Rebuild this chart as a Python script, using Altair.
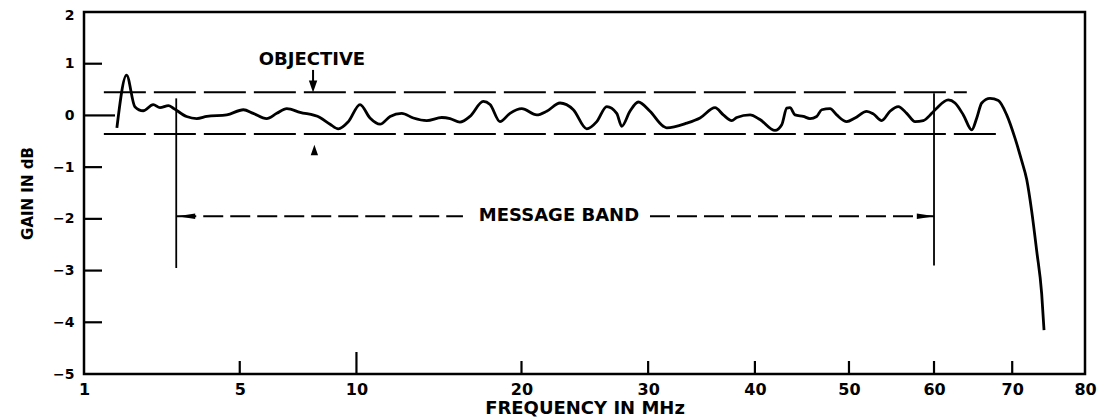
import altair as alt
import pandas as pd

# ---- measured response curve (frequency in MHz, gain in dB) ----
freq = [1.59, 1.79, 1.97, 2.16, 2.40, 2.57, 2.79, 2.92, 3.29, 3.59,
        3.90, 4.55, 5.13, 5.49, 6.00, 6.40, 6.81, 7.37, 8.25, 8.72,
        9.11, 9.60, 10.18, 10.69, 11.22, 11.76, 12.40, 13.06, 13.84, 14.74,
        15.25, 15.87, 16.51, 17.38, 17.83, 18.50, 19.19, 20.02, 21.10, 21.83,
        22.83, 23.85, 24.90, 25.70, 26.51, 27.33, 27.75, 28.44, 29.15, 30.16,
        31.33, 31.64, 33.45, 34.68, 36.10, 36.89, 37.71, 38.20, 39.51, 40.51,
        42.04, 42.74, 43.26, 43.60, 44.13, 45.01, 45.72, 46.44, 46.99, 47.90,
        48.63, 49.75, 50.68, 52.01, 52.77, 53.74, 54.71, 55.69, 56.69, 57.69,
        58.69, 59.72, 60.33, 61.77, 62.61, 63.66, 64.73, 65.37, 66.01, 67.08,
        68.17, 69.27, 70.37, 71.27, 71.94, 72.61, 73.29, 73.97, 74.29]
gain = [-0.24, 0.78, 0.17, 0.09, 0.21, 0.15, 0.19, 0.14, -0.02, -0.06,
        -0.02, 0.01, 0.11, 0.04, -0.06, 0.04, 0.13, 0.06, -0.04, -0.17,
        -0.26, -0.12, 0.21, -0.05, -0.17, -0.02, 0.04, -0.05, -0.10, -0.04,
        -0.06, -0.13, -0.02, 0.27, 0.21, -0.12, 0.04, 0.13, 0.01, 0.08,
        0.24, 0.11, -0.26, -0.12, 0.17, 0.04, -0.21, 0.08, 0.26, 0.08,
        -0.21, -0.24, -0.15, -0.05, 0.15, 0.01, -0.10, -0.04, 0.01, -0.08,
        -0.29, -0.18, 0.14, 0.15, 0.01, -0.02, -0.06, -0.02, 0.11, 0.13,
        0.01, -0.12, -0.05, 0.08, 0.03, -0.10, 0.08, 0.17, 0.04, -0.12,
        -0.10, 0.04, 0.14, 0.30, 0.24, 0.01, -0.28, -0.05, 0.24, 0.33,
        0.29, 0.01, -0.44, -0.88, -1.24, -1.85, -2.62, -3.45, -4.15]

# ---- axes ----
x_tick_values = [1, 5, 10, 20, 30, 40, 50, 60, 70, 80]
y_tick_values = [-5, -4, -3, -2, -1, 0, 1, 2]
inner_x_ticks = [5, 20, 30, 40, 50, 60, 70]
inner_x_tick_long = [10]
inner_y_ticks = [1, -1, -2, -3, -4]
inner_y_tick_long = [0]

# ---- objective (+/- tolerance) ----
objective_level = [0.45, -0.36]
objective_start = [1.34, 1.34]
objective_end = [64.1, 68.8]
objective_label = ["OBJECTIVE"]
objective_label_f = [7.89]
objective_label_g = [1.08]
objective_down_f = [7.94]
objective_down_stem = [0.88, 0.62]
objective_down_head = [0.56]
objective_up_f = [8.0]
objective_up_head = [-0.67]

# ---- message band ----
band_edges = [3.0, 60.0]
band_edge_top = [0.33, 0.43]
band_edge_bottom = [-2.95, -2.9]
band_level = [-1.95, -1.95]
band_dash_start = [3.0, 30.16]
band_dash_end = [16.06, 60.0]
band_arrow_left = [3.28]
band_arrow_right = [59.0]
band_label = ["MESSAGE BAND"]
band_label_f = [22.75]

FONT = "DejaVu Sans"
INK = "black"
W, H = 1001, 362

xs = alt.Scale(type="sqrt", domain=[1, 80], zero=False, nice=False)
ys = alt.Scale(domain=[-5, 2], zero=False, nice=False)

x_axis = alt.Axis(values=x_tick_values, title="FREQUENCY IN MHz", format="d",
                  ticks=False, tickSize=0, domain=False, grid=False,
                  labelFlush=False, labelOverlap=False, labelPadding=7,
                  labelFont=FONT, labelFontSize=16, labelFontWeight="bold",
                  labelColor=INK, titleFont=FONT, titleFontSize=18,
                  titleFontWeight="bold", titleColor=INK, titleY=39,
                  titleBaseline="alphabetic")
y_axis = alt.Axis(values=y_tick_values, title="GAIN IN dB", format="d",
                  ticks=False, tickSize=0, domain=False, grid=False,
                  labelFlush=False, labelOverlap=False, labelPadding=10,
                  labelOffset={"condition": {"test": "datum.value === 2",
                                             "value": 3},
                               "value": 0},
                  labelFont=FONT, labelFontSize=14, labelFontWeight="bold",
                  labelColor=INK, titleFont=FONT, titleFontSize=15,
                  titleFontWeight="bold", titleColor=INK, titleX=-57,
                  titleY=H / 2, titleAngle=270, titleAlign="center",
                  titleBaseline="middle")


def X(field):
    return alt.X(field, type="quantitative", scale=xs, axis=x_axis)


def Y(field):
    return alt.Y(field, type="quantitative", scale=ys, axis=y_axis)


curve_df = pd.DataFrame({"f": freq, "g": gain})
curve = alt.Chart(curve_df).mark_line(
    color=INK, strokeWidth=2.8, interpolate="monotone"
).encode(x=X("f"), y=Y("g"))

# inner ticks
ytick_df = pd.DataFrame({"g": inner_y_ticks})
ytick = alt.Chart(ytick_df).mark_rule(color=INK, strokeWidth=2.2).encode(
    y=Y("g"), x=alt.value(0), x2=alt.value(18))
ytick0_df = pd.DataFrame({"g": inner_y_tick_long})
ytick0 = alt.Chart(ytick0_df).mark_rule(color=INK, strokeWidth=2.2).encode(
    y=Y("g"), x=alt.value(0), x2=alt.value(31))
xtick_df = pd.DataFrame({"f": inner_x_ticks})
xtick = alt.Chart(xtick_df).mark_rule(color=INK, strokeWidth=2.2).encode(
    x=X("f"), y=alt.value(H), y2=alt.value(H - 13))
xtick10_df = pd.DataFrame({"f": inner_x_tick_long})
xtick10 = alt.Chart(xtick10_df).mark_rule(color=INK, strokeWidth=2.2).encode(
    x=X("f"), y=alt.value(H), y2=alt.value(H - 22))

# objective lines
obj_df = pd.DataFrame({"f": objective_start, "f1": objective_end,
                       "g": objective_level})
obj = alt.Chart(obj_df).mark_rule(color=INK, strokeWidth=2,
                                  strokeDash=[42, 8]).encode(
    x=X("f"), x2="f1", y=Y("g"))

obj_text = alt.Chart(pd.DataFrame({"f": objective_label_f,
                                   "g": objective_label_g,
                                   "t": objective_label})).mark_text(
    font=FONT, fontSize=18, fontWeight="bold", color=INK,
    align="center", baseline="middle").encode(x=X("f"), y=Y("g"), text="t:N")

down_stem = alt.Chart(pd.DataFrame({"f": objective_down_f,
                                    "g": [objective_down_stem[0]],
                                    "g1": [objective_down_stem[1]]})).mark_rule(
    color=INK, strokeWidth=2).encode(x=X("f"), y=Y("g"), y2="g1")
down_head = alt.Chart(pd.DataFrame({"f": objective_down_f,
                                    "g": objective_down_head})).mark_point(
    shape="M 0 1 L -0.7 -1 L 0.7 -1 Z", size=144, filled=True,
    color=INK, opacity=1).encode(x=X("f"), y=Y("g"))
up_head = alt.Chart(pd.DataFrame({"f": objective_up_f,
                                  "g": objective_up_head})).mark_point(
    shape="M 0 -1 L -0.7 1 L 0.7 1 Z", size=110, filled=True,
    color=INK, opacity=1).encode(x=X("f"), y=Y("g"))

# message band
edge_df = pd.DataFrame({"f": band_edges, "g": band_edge_top,
                        "g1": band_edge_bottom})
edges = alt.Chart(edge_df).mark_rule(color=INK, strokeWidth=1.8).encode(
    x=X("f"), y=Y("g"), y2="g1")
band_df = pd.DataFrame({"f": band_dash_start, "f1": band_dash_end,
                        "g": band_level})
band = alt.Chart(band_df).mark_rule(color=INK, strokeWidth=2,
                                    strokeDash=[20, 7]).encode(
    x=X("f"), x2="f1", y=Y("g"))
left_head = alt.Chart(pd.DataFrame({"f": band_arrow_left,
                                    "g": band_level[:1]})).mark_point(
    shape="M -1 0 L 1 -0.3 L 1 0.3 Z", size=324, filled=True,
    color=INK, opacity=1).encode(x=X("f"), y=Y("g"))
right_head = alt.Chart(pd.DataFrame({"f": band_arrow_right,
                                     "g": band_level[:1]})).mark_point(
    shape="M 1 0 L -1 -0.3 L -1 0.3 Z", size=324, filled=True,
    color=INK, opacity=1).encode(x=X("f"), y=Y("g"))
band_text = alt.Chart(pd.DataFrame({"f": band_label_f, "g": band_level[:1],
                                    "t": band_label})).mark_text(
    font=FONT, fontSize=18, fontWeight="bold", color=INK,
    align="center", baseline="middle").encode(x=X("f"), y=Y("g"), text="t:N")

chart = alt.layer(
    curve, ytick, ytick0, xtick, xtick10, obj, obj_text, down_stem,
    down_head, up_head, edges, band, left_head, right_head, band_text
).properties(
    width=W, height=H,
    autosize=alt.AutoSizeParams(type="none"),
    padding={"left": 76, "top": 4, "right": 16, "bottom": 45},
    background="white",
).configure_view(stroke=INK, strokeWidth=2.5)

chart.save("out.html", embed_options={"renderer": "svg", "actions": False})
